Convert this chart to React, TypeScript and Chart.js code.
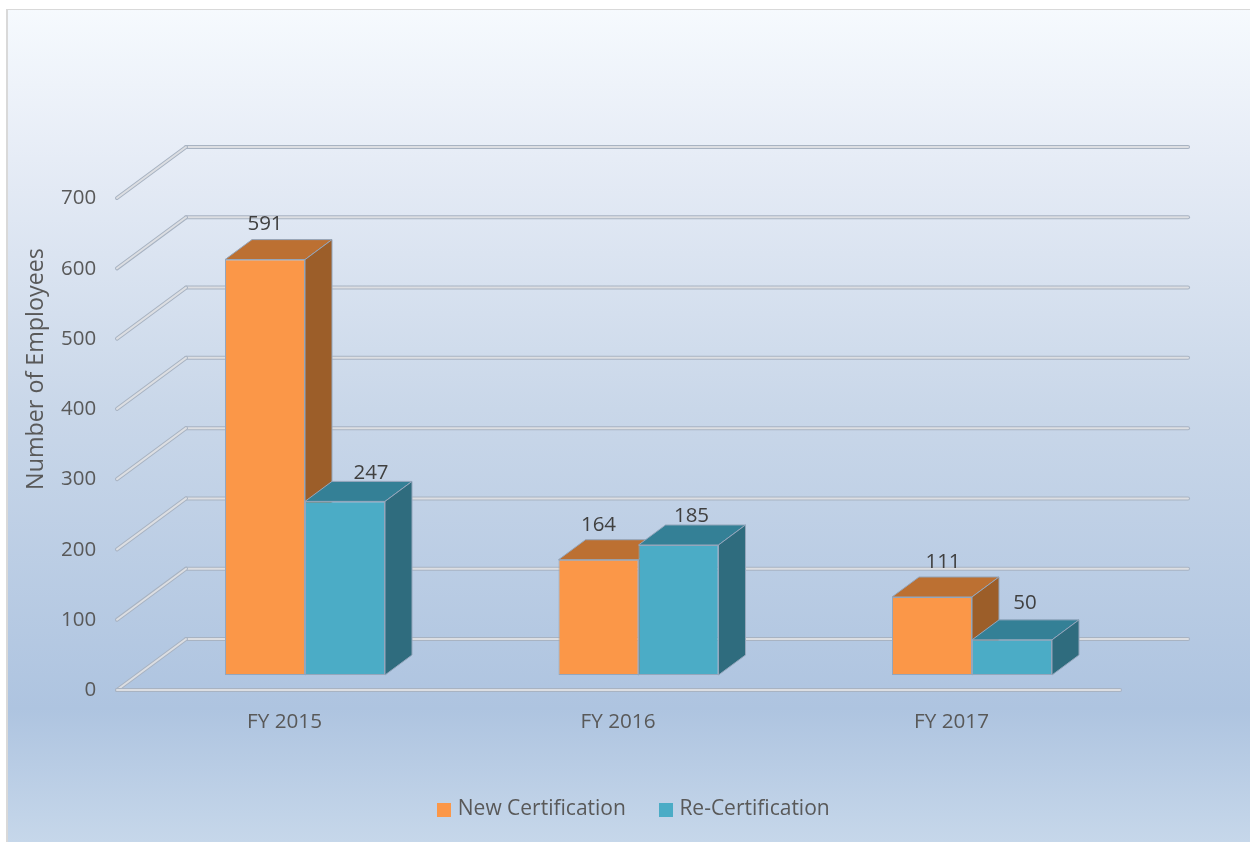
import React, { useEffect, useRef } from "react";
import { Chart, registerables } from "chart.js";

Chart.register(...registerables);

const categories = ["FY 2015", "FY 2016", "FY 2017"];
const newCertification = [591, 164, 111];
const reCertification = [247, 185, 50];
const yTicks = [0, 100, 200, 300, 400, 500, 600, 700];
const seriesNames = ["New Certification", "Re-Certification"];
const axisTitle = "Number of Employees";

const FONT = '"Open Sans", sans-serif';
const front = ["#FB9748", "#4BACC6"];
const topFace = ["#BC7032", "#348096"];
const sideFace = ["#9C5E29", "#2F6C7E"];
const edge = "#94A6BC";

// 3D projection: the bar depth, and the wall/floor depth.
const BAR_DX = 27;
const BAR_DY = -20;
const FLOOR_FRONT_DY = 15;
const WALL_BACK_DY = -36;
const FLOOR_LEFT = 117;
const FLOOR_RIGHT = 1120;
const WALL_LEFT = 186;
const WALL_RIGHT = 1188;
const LEGEND_SHIFT = 36.1;

// hand-placed data labels of the original: offset from the bar's top centre
const labelOffsets = [
  [
    [0, -35.5],
    [0, -34.5],
    [11, -34.5],
  ],
  [
    [26, -28.5],
    [13, -28.5],
    [13, -36.5],
  ],
];

function ridge(ctx: CanvasRenderingContext2D, x1: number, y1: number, x2: number, y2: number) {
  ctx.save();
  ctx.lineCap = "round";
  ctx.strokeStyle = "#A8B3C2";
  ctx.lineWidth = 4;
  ctx.beginPath();
  ctx.moveTo(x1, y1);
  ctx.lineTo(x2, y2);
  ctx.stroke();
  ctx.strokeStyle = "#DCDEE2";
  ctx.lineWidth = 2;
  ctx.beginPath();
  ctx.moveTo(x1, y1);
  ctx.lineTo(x2, y2);
  ctx.stroke();
  ctx.restore();
}

function poly(ctx: CanvasRenderingContext2D, pts: number[][], fill: string) {
  ctx.beginPath();
  pts.forEach((p, i) => (i ? ctx.lineTo(p[0], p[1]) : ctx.moveTo(p[0], p[1])));
  ctx.closePath();
  ctx.fillStyle = fill;
  ctx.fill();
  ctx.strokeStyle = edge;
  ctx.lineWidth = 1;
  ctx.stroke();
}

const backdrop = {
  id: "backdrop",
  beforeDraw(chart: any) {
    const { ctx, width, height } = chart;
    ctx.save();
    const g = ctx.createLinearGradient(0, 9, 0, height);
    g.addColorStop(0, "#F6FAFE");
    g.addColorStop(0.18, "#E6ECF6");
    g.addColorStop(0.48, "#C9D7E9");
    g.addColorStop(0.84, "#AEC4E0");
    g.addColorStop(1, "#C6D7EA");
    ctx.fillStyle = g;
    ctx.fillRect(6, 9, width - 6, height - 9);
    ctx.fillStyle = "#D9D9D9";
    ctx.fillRect(6, 9, 2, height - 9);
    ctx.fillRect(6, 9, width - 6, 1);
    ctx.restore();
  },
  afterLayout(chart: any) {
    chart.legend.left += LEGEND_SHIFT;
    chart.legend.right += LEGEND_SHIFT;
  },
};

const depth3d = {
  id: "depth3d",
  beforeDatasetsDraw(chart: any) {
    const { ctx, scales } = chart;
    const y = scales.y;
    ctx.save();
    yTicks.forEach((v) => {
      const py = y.getPixelForValue(v);
      ridge(ctx, WALL_LEFT, py + WALL_BACK_DY, WALL_RIGHT, py + WALL_BACK_DY);
      ridge(ctx, FLOOR_LEFT, py + FLOOR_FRONT_DY, WALL_LEFT, py + WALL_BACK_DY);
    });
    const base = y.getPixelForValue(0) + FLOOR_FRONT_DY;
    ridge(ctx, FLOOR_LEFT, base, FLOOR_RIGHT, base);

    categories.forEach((_, i) => {
      [0, 1].forEach((d) => {
        const el = chart.getDatasetMeta(d).data[i];
        const half = el.width / 2;
        const l = el.x - half;
        const r = el.x + half;
        const t = el.y;
        const b = el.base;
        poly(ctx, [[l, t], [r, t], [r + BAR_DX, t + BAR_DY], [l + BAR_DX, t + BAR_DY]], topFace[d]);
        poly(ctx, [[r, t], [r + BAR_DX, t + BAR_DY], [r + BAR_DX, b + BAR_DY], [r, b]], sideFace[d]);
      });
    });
    ctx.restore();
  },
  afterDatasetsDraw(chart: any) {
    const { ctx } = chart;
    ctx.save();
    ctx.font = `20.5px ${FONT}`;
    ctx.fillStyle = "#404040";
    ctx.textAlign = "center";
    ctx.textBaseline = "middle";
    [0, 1].forEach((d) => {
      chart.getDatasetMeta(d).data.forEach((el: any, i: number) => {
        const [ox, oy] = labelOffsets[d][i];
        ctx.fillText(String(chart.data.datasets[d].data[i]), el.x + ox, el.y + oy);
      });
    });
    ctx.font = `23.3px ${FONT}`;
    ctx.translate(36, 369);
    ctx.rotate(-Math.PI / 2);
    ctx.fillStyle = "#595959";
    ctx.fillText(axisTitle, 0, 0);
    ctx.restore();
  },
};

function legendSwatch(color: string) {
  const c = document.createElement("canvas");
  c.width = 14;
  c.height = 14;
  const x = c.getContext("2d")!;
  x.fillStyle = color;
  x.fillRect(0, 0, 14, 14);
  return c;
}

export default function App() {
  const ref = useRef<HTMLCanvasElement>(null);
  useEffect(() => {
    const swatches = front.map(legendSwatch);
    const chart = new Chart(ref.current!, {
      type: "bar",
      data: {
        labels: categories,
        datasets: [
          { label: seriesNames[0], data: newCertification, backgroundColor: front[0], borderColor: edge, borderWidth: 1, borderSkipped: false },
          { label: seriesNames[1], data: reCertification, backgroundColor: front[1], borderColor: edge, borderWidth: 1, borderSkipped: false },
        ],
      },
      plugins: [backdrop, depth3d],
      options: {
        animation: false,
        responsive: false,
        datasets: { bar: { barPercentage: 1, categoryPercentage: 160 / 333.5 } },
        layout: { padding: { left: 60, right: 111.25, top: 183, bottom: 12 } },
        scales: {
          x: {
            border: { display: false },
            grid: { display: false, drawTicks: false },
            ticks: { font: { family: FONT, size: 20.7 }, color: "#595959", labelOffset: -20.5, padding: 35, maxRotation: 0 },
            afterFit(s: any) {
              s.height = 87;
            },
          },
          y: {
            min: 0,
            max: 700,
            border: { display: false },
            grid: { display: false, drawTicks: false },
            ticks: { font: { family: FONT, size: 20.5 }, color: "#595959", stepSize: 100, labelOffset: 15.5, padding: 42 },
            afterFit(s: any) {
              s.width = 78.25;
            },
          },
        },
        plugins: {
          tooltip: { enabled: false },
          title: { display: false },
          legend: {
            position: "bottom",
            labels: {
              usePointStyle: true,
              pointStyleWidth: 6,
              boxHeight: 14,
              padding: 37,
              color: "#595959",
              font: { family: FONT, size: 21 },
              generateLabels: () =>
                seriesNames.map((text, i) => ({
                  text,
                  fillStyle: front[i],
                  strokeStyle: front[i],
                  lineWidth: 0,
                  pointStyle: swatches[i],
                  datasetIndex: i,
                  fontColor: "#595959",
                })),
            },
          },
        },
      } as any,
    });
    return () => chart.destroy();
  }, []);
  return (
    <div style={{ position: "absolute", left: 0, top: 0 }}>
      <canvas ref={ref} width={1250} height={842} style={{ display: "block" }} />
    </div>
  );
}
